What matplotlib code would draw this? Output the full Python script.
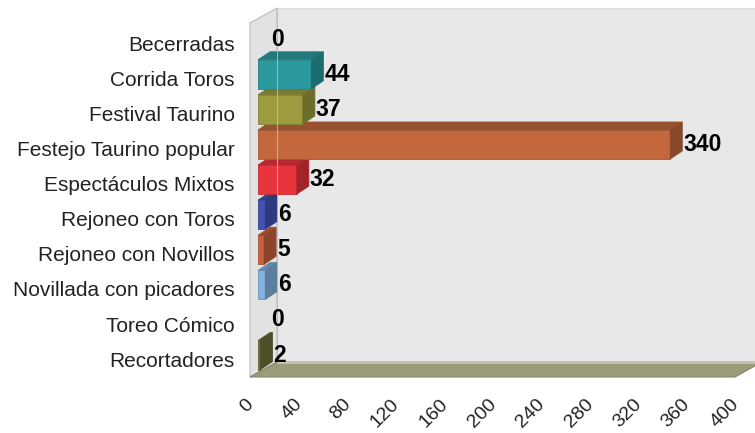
import numpy as np
import matplotlib.pyplot as plt
import matplotlib.transforms as mtransforms
from matplotlib.patches import Polygon

plt.rcParams['font.family'] = ['Liberation Sans', 'DejaVu Sans']

# data
categorias = ['Becerradas', 'Corrida Toros', 'Festival Taurino',
              'Festejo Taurino popular', 'Espectáculos Mixtos',
              'Rejoneo con Toros', 'Rejoneo con Novillos',
              'Novillada con picadores', 'Toreo Cómico', 'Recortadores']
valores = [0, 44, 37, 340, 32, 6, 5, 6, 0, 2]
colores = ['#2a9aa0', '#2a9aa0', '#9c9c3e', '#c2683c', '#e8343c',
           '#4352b4', '#c8623e', '#84b2e0', '#6e6e3a', '#70703a']
xticks = [0, 40, 80, 120, 160, 200, 240, 280, 320, 360, 400]

W, H = 755, 433
fig = plt.figure(figsize=(W / 100, H / 100), dpi=100)
# front plane of the "3d" box
ax_l, ax_r, ax_t, ax_b = 250, 735, 23, 377
ax = fig.add_axes([ax_l / W, 1 - ax_b / H, (ax_r - ax_l) / W, (ax_b - ax_t) / H])
pitch = 35.1
row0 = 43.2
ytop = (ax_t - row0) / pitch
ybot = (ax_b - row0) / pitch
ax.set_xlim(0, 400)
ax.set_ylim(ybot, ytop)
for s in ax.spines.values():
    s.set_visible(False)
ax.patch.set_visible(False)

sx = (ax_r - ax_l) / 400.0


def off(dx, dy):
    # pixel offset (dy up) -> data offset
    return dx / sx, -dy / pitch


def shift(p, d):
    return (p[0] + d[0], p[1] + d[1])


wall = off(27, 15)
# back wall
bw = [shift((0, ytop), wall), shift((400, ytop), wall),
      shift((400, ybot), wall), shift((0, ybot), wall)]
ax.add_patch(Polygon(bw, closed=True, fc='#e8e8e8', ec='#dcdcdc', lw=0.8,
                     zorder=0, clip_on=False))
# left wall
lw_ = [(0, ybot), (0, ytop), shift((0, ytop), wall), shift((0, ybot), wall)]
ax.add_patch(Polygon(lw_, closed=True, fc='#e2e2e2', ec='#bdbdbd', lw=0.8,
                     zorder=1, clip_on=False))
# floor
fl = [(0, ybot), (400, ybot), shift((400, ybot), wall), shift((0, ybot), wall)]
ax.add_patch(Polygon(fl, closed=True, fc='#9c9c7b', ec='#85856a', lw=0.8,
                     zorder=1, clip_on=False))
ax.plot([wall[0], 400 + wall[0]], [ybot + wall[1], ybot + wall[1]],
        color='#c4c4ae', lw=2, zorder=1, clip_on=False, solid_capstyle='butt')


def darker(c, f):
    rgb = np.array(plt.matplotlib.colors.to_rgb(c))
    return tuple(rgb * f)


# bars: bar plane sits 8 px right, 4 px up from the front plane
bp = off(8, 4)
bd = off(12, 8)
hgt = 29 / pitch
rows = np.arange(len(categorias))
for i in rows[::-1]:
    v = valores[i]
    c = colores[i]
    yc = i + bp[1]
    y0, y1 = yc + hgt / 2, yc - hgt / 2   # bottom, top (inverted axis)
    x0, x1 = bp[0], v + bp[0]
    if v > 0:
        z = 3 + (len(categorias) - i) * 0.01
        ax.barh(yc, v, height=hgt, left=x0, color=c, ec=darker(c, 0.85),
                lw=0.6, zorder=z)
        ax.add_patch(Polygon([(x0, y1), (x1, y1), shift((x1, y1), bd), shift((x0, y1), bd)],
                             closed=True, fc=darker(c, 0.78), ec=darker(c, 0.78),
                             lw=0.6, zorder=z))
        ax.add_patch(Polygon([(x1, y1), (x1, y0), shift((x1, y0), bd), shift((x1, y1), bd)],
                             closed=True, fc=darker(c, 0.7), ec=darker(c, 0.7),
                             lw=0.6, zorder=z))
    ax.text(v + bp[0] + 13 / sx, yc, str(v), ha='left', va='center',
            fontsize=16.5, fontweight='bold', color='black', zorder=10)

# edge line of the left wall seen through the bars
ax.plot([wall[0], wall[0]], [ytop + wall[1], ybot + wall[1]], color='#bfbfbf',
        lw=0.8, alpha=0.8, zorder=5, clip_on=False)

ax.set_yticks(rows)
ax.set_yticklabels(categorias, fontsize=15, color='#222222')
ax.set_xticks(xticks)
ax.set_xticklabels([str(t) for t in xticks], fontsize=14, color='#222222',
                   rotation=45, ha='right', va='top', rotation_mode='anchor')
ax.tick_params(axis='y', length=0, pad=11)
ax.tick_params(axis='x', length=0, pad=13.5)
tx = mtransforms.ScaledTranslation(-5 / 100, 0, fig.dpi_scale_trans)
for lab in ax.get_xticklabels():
    lab.set_transform(lab.get_transform() + tx)

fig.savefig('out.png', dpi=100)
